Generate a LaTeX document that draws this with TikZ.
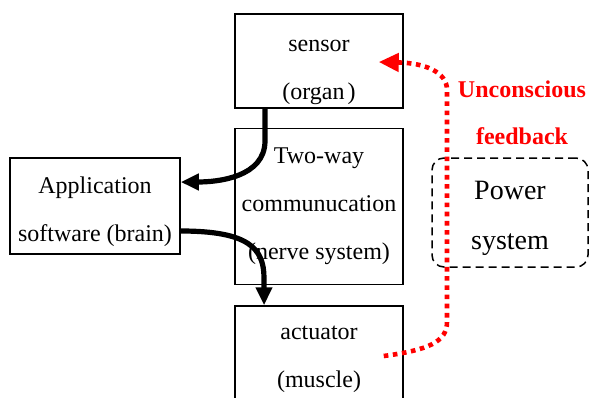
\documentclass[tikz,border=0pt]{standalone}
\usepackage{fontspec}
\setmainfont{Liberation Serif}
\usetikzlibrary{arrows.meta,positioning}

\begin{document}
\begin{tikzpicture}[x=0.5pt, y=-0.5pt, >={Triangle[length=9pt,width=8pt]}, node distance=9.5pt,
    block/.style={draw, line width=0.75pt, minimum width=84pt, inner ysep=0pt, align=center, font=\fontsize{12}{24}\selectfont},
    power/.style={draw, line width=0.75pt, dash pattern=on 4pt off 2.5pt, rounded corners=6pt,
        minimum width=78pt, minimum height=54.5pt, align=center, font=\fontsize{14}{25}\selectfont},
    nerve/.style={->, line width=2.6pt},
    feedback/.style={-{Triangle[length=10pt,width=9pt]}, red, line width=2.3pt, dash pattern=on 2.3pt off 2.3pt}]
    \useasboundingbox (0,0) rectangle (589,397);

    % Nodes {sensor, nerves, actuator, brain, power}
    \node [block, minimum height=47pt] 	(sensor) 	at (319,61) 			{\rule{0pt}{17pt}sensor\\(organ\kern1.5pt)};
    \node [block, minimum height=78pt] 	(nerves) 	[below=of sensor] 		{Two-way\\communucation\\(nerve system)};
    \node [block, minimum height=50pt] 	(actuator) 	[below=10pt of nerves] 	{\rule{0pt}{10pt}actuator\\(muscle)};
    \node [block, minimum width=85pt, minimum height=48pt] (brain) at (95,206) {\rule{0pt}{14pt}Application\\software (brain)};
    \node [power] 						(power) 	at (510,212.5) 			{\rule{0pt}{15pt}Power\\system};
    \node [red, align=center, font=\fontsize{12}{23.5}\selectfont\bfseries] (unconscious) at (522,113) {Unconscious\\feedback};

    % Paths
    \coordinate (sensor out) 	at ([xshift=-27pt]sensor.south);
    \coordinate (actuator in) 	at ([xshift=-27.5pt]actuator.north);
    \coordinate (fb out) 		at ([xshift=-10pt]actuator.east);
    \coordinate (fb in) 		at ([xshift=-12.5pt,yshift=-0.5pt]sensor.east);

    \draw [nerve] (sensor out) -- ++(0,32) to[out=-90,in=0] ([yshift=12pt]brain.east);
    \draw [nerve] ([yshift=-12.5pt]brain.east) .. controls (248,231) and (264,248) .. (264,278) -- (actuator in);
    \draw [feedback] (fb out) .. controls (428,350) and (447,342) .. (447,322) -- (447,90)
        .. controls (447,72) and (425,63) .. (fb in);
\end{tikzpicture}
\end{document}
